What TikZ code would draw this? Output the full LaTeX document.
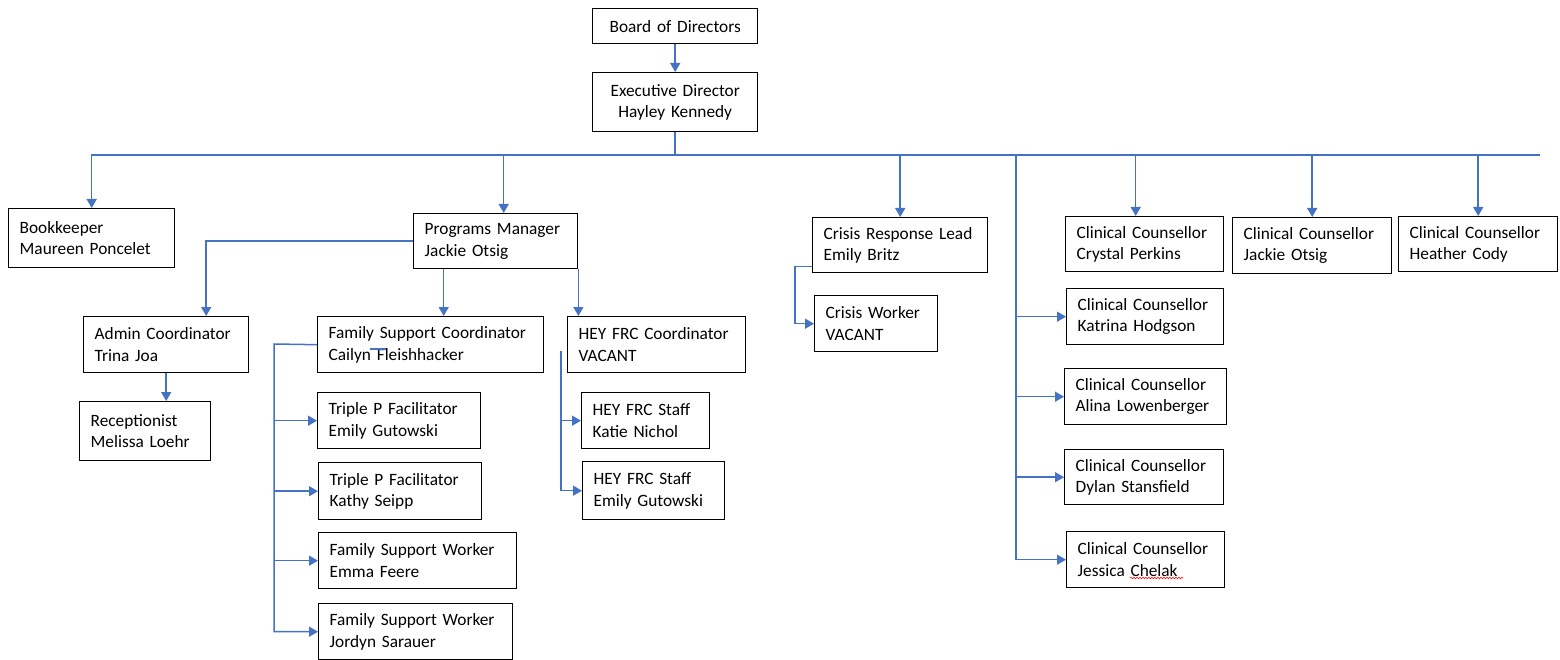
\documentclass[tikz,border=0pt]{standalone}
\usepackage{fontspec}
\setmainfont{Carlito}
\usetikzlibrary{arrows.meta,decorations.pathmorphing}
\definecolor{lnblue}{HTML}{4472C4}
\tikzset{
  box/.style={draw=black, line width=1.4pt, anchor=north west, inner xsep=11pt, inner ysep=0pt, align=left,
    font=\fontsize{17.3}{21.5}\selectfont},
  cbox/.style={box, align=center},
  conn/.style={draw=lnblue, line width=1.5pt},
  arr/.style={conn, -{Triangle[width=10pt,length=9pt]}}
}
\newcommand\bx[7][box]{\node[#1, text width=#5pt, minimum height=#6pt] (#2) at (#3,#4) {#7};}
\begin{document}
\begin{tikzpicture}[x=1pt,y=-1pt]
\useasboundingbox (0,0) rectangle (1560,660);
% nodes
\bx[cbox]{board}{592}{8}{143}{35}{Board of Directors}
\bx[cbox]{exec}{592}{72}{143}{59}{Executive Director\\Hayley Kennedy}
\bx{bk}{8}{208}{144}{59}{Bookkeeper\\Maureen Poncelet}
\bx{pm}{413}{213}{142}{55}{Programs Manager\\Jackie Otsig}
\bx{crl}{812}{217}{153}{55}{Crisis Response Lead\\Emily Britz}
\bx{cca}{1065}{216}{136}{55}{Clinical Counsellor\\Crystal Perkins}
\bx{ccb}{1232}{217}{137}{56}{Clinical Counsellor\\Jackie Otsig}
\bx{ccc}{1398}{216}{137}{55}{Clinical Counsellor\\Heather Cody}
\bx{admin}{83}{316}{143}{56}{Admin Coordinator\\Trina Joa}
\bx{fsc}{317}{316}{204}{56}{Family Support Coordinator\\Cailyn Fleishhacker}
\bx{hey}{567}{316}{156}{56}{HEY FRC Coordinator\\VACANT}
\bx{cw}{814}{295}{101}{56}{Crisis Worker\\VACANT}
\bx{rec}{79}{401}{109}{59}{Receptionist\\Melissa Loehr}
\bx{tpa}{317}{392}{141}{56}{Triple P Facilitator\\Emily Gutowski}
\bx{tpb}{318}{462}{141}{57}{Triple P Facilitator\\Kathy Seipp}
\bx{fswa}{318}{532}{176}{56}{Family Support Worker\\Emma Feere}
\bx{fswb}{318}{603}{172}{56}{Family Support Worker\\Jordyn Sarauer}
\bx{hsa}{581}{392}{106}{56}{HEY FRC Staff\\Katie Nichol}
\bx{hsb}{582}{461}{120}{58}{HEY FRC Staff\\Emily Gutowski}
\bx{kat}{1066}{288}{135}{56}{Clinical Counsellor\\Katrina Hodgson}
\bx{ali}{1064}{368}{140}{56}{Clinical Counsellor\\Alina Lowenberger}
\bx{dyl}{1064}{449}{137}{55}{Clinical Counsellor\\Dylan Stansfield}
\bx{jes}{1066}{531}{136}{56}{Clinical Counsellor\\Jessica Chelak}
% coordinates
\coordinate (busL) at (91,155);
\coordinate (busR) at (1540,155);
\coordinate (cl) at (1016,155);
\coordinate (fl) at (274,344);
\coordinate (hl) at (561,351);
% top
\draw[arr] (board.south) -- (exec.north);
\draw[conn] (exec.south) -- (exec.south |- busL);
\draw[conn] (busL) -- (busR);
\draw[arr] (bk.north |- busL) -- (bk.north);
\draw[arr] ([xshift=8pt]pm.north |- busL) -- ([xshift=8pt]pm.north);
\draw[arr] (crl.north |- busL) -- (crl.north);
\draw[arr] ([xshift=-9pt]cca.north |- busL) -- ([xshift=-9pt]cca.north);
\draw[arr] (ccb.north |- busL) -- (ccb.north);
\draw[arr] (ccc.north |- busL) -- (ccc.north);
% counsellor column
\draw[arr] (cl) |- (jes.west);
\draw[arr] (cl |- kat.west) -- (kat.west);
\draw[arr] (cl |- ali.west) -- (ali.west);
\draw[arr] (cl |- dyl.west) -- (dyl.west);
% crisis
\draw[arr] ([yshift=7pt]crl.south west) -- ++(-17,0) |- (cw.west);
% programs manager
\draw[arr] (pm.west) -| ([xshift=40pt]admin.north);
\draw[arr] ([xshift=13pt]fsc.north |- pm.south) -- ([xshift=13pt]fsc.north);
\draw[arr] (pm.south east) -- (pm.south east |- hey.north);
\draw[arr] (admin.south) -- (admin.south |- rec.north);
% family support
\draw[arr] (fsc.west) -- (fl) |- (fswb.west);
\draw[arr] (fl |- tpa.west) -- (tpa.west);
\draw[arr] (fl |- tpb.west) -- (tpb.west);
\draw[arr] (fl |- fswa.west) -- (fswa.west);
\draw[conn, line width=1.2pt] (370,349) -- (386,349);
% HEY
\draw[arr] (hl) |- (hsb.west);
\draw[arr] (hl |- hsa.west) -- (hsa.west);
% spell-check squiggle
\draw[red, line width=0.6pt, decorate, decoration={snake, amplitude=0.8pt, segment length=3pt}] (1130,578) -- (1183,578);
\end{tikzpicture}
\end{document}
